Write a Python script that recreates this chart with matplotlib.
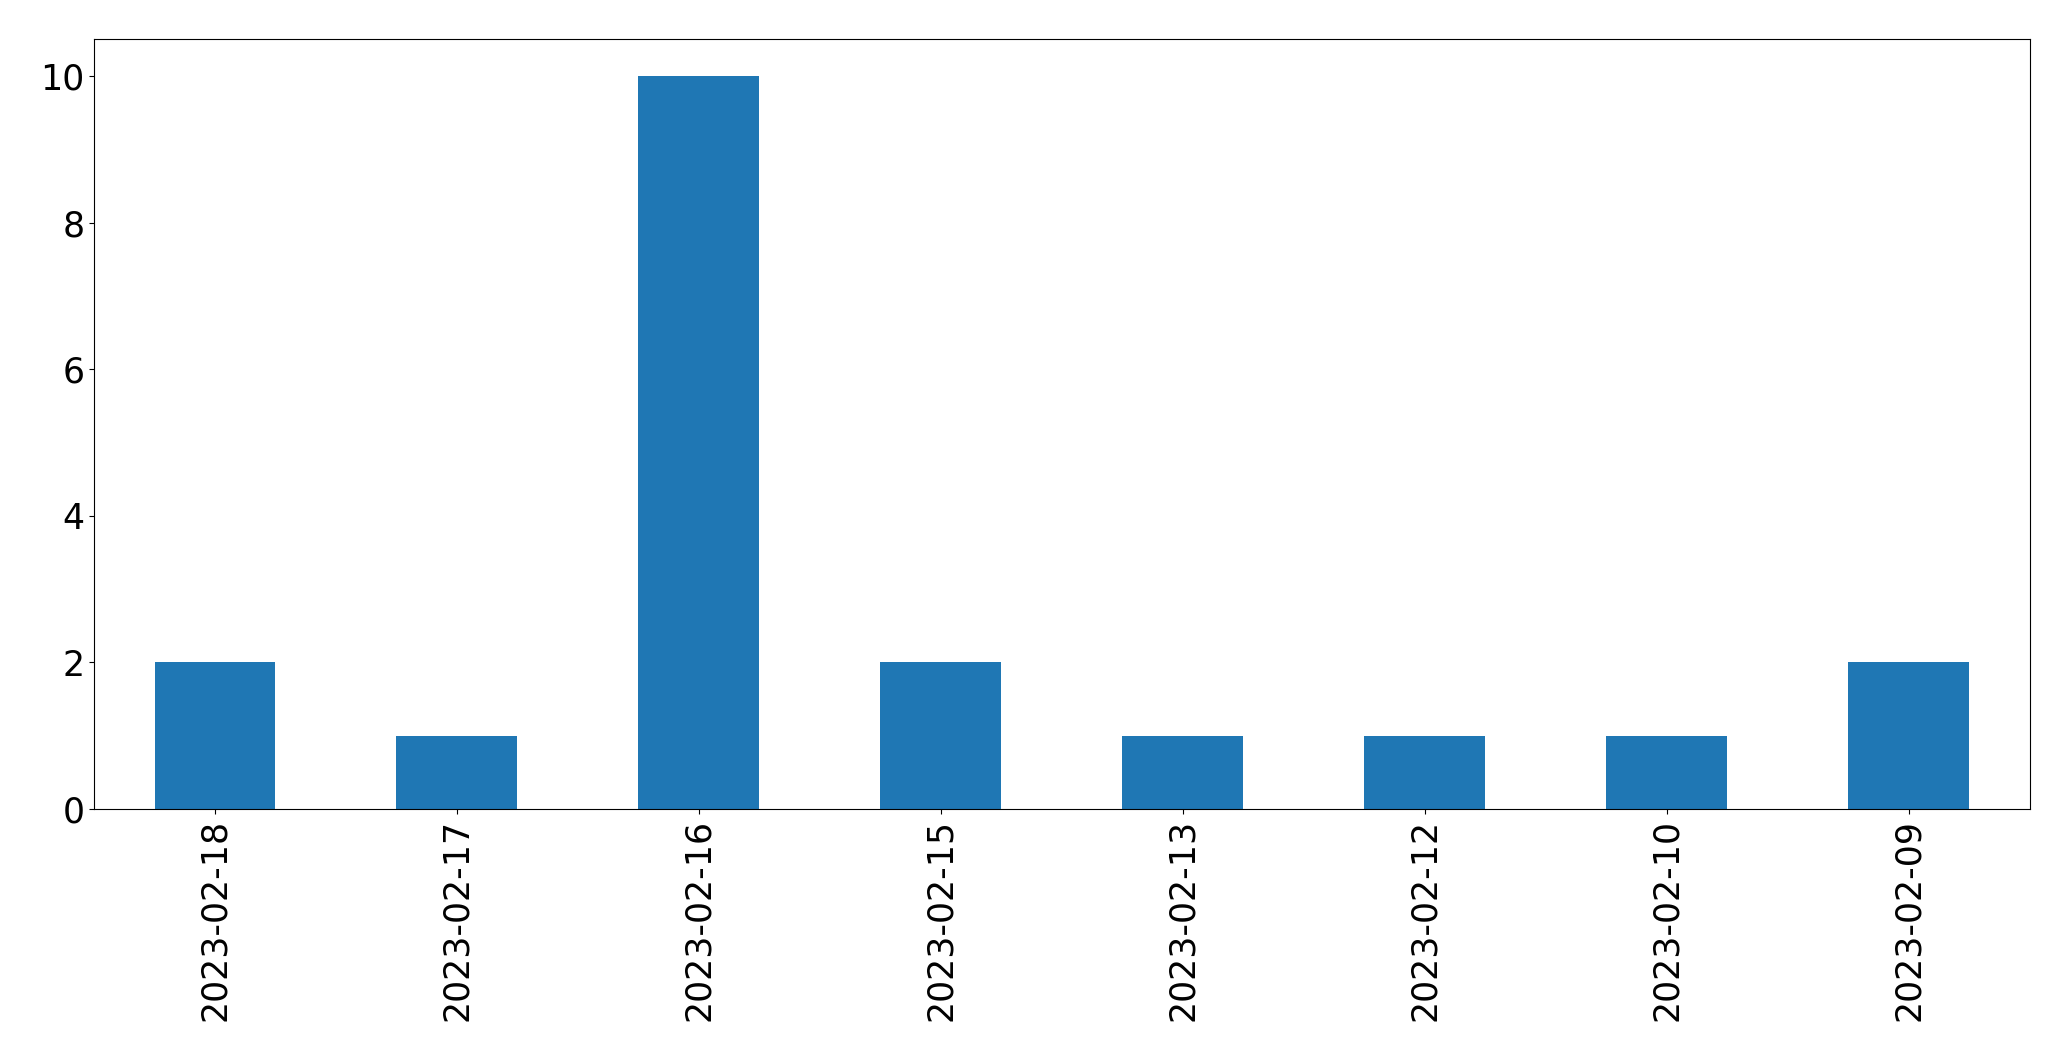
import matplotlib
matplotlib.use("Agg")
import matplotlib.pyplot as plt
import pandas as pd

# Counts per date, in the order shown on the chart
dates = ["2023-02-18", "2023-02-17", "2023-02-16", "2023-02-15",
         "2023-02-13", "2023-02-12", "2023-02-10", "2023-02-09"]
counts = [2, 1, 10, 2, 1, 1, 1, 2]

s = pd.Series(counts, index=dates)

fig, ax = plt.subplots(figsize=(20.71, 10.61), dpi=100)
fig.subplots_adjust(left=0.0454, right=0.980, top=0.963, bottom=0.2375)
s.plot(kind="bar", ax=ax, color="#1f77b4", fontsize=25)
ax.tick_params(axis="x", labelrotation=90)

fig.savefig("out.png", dpi=100)
